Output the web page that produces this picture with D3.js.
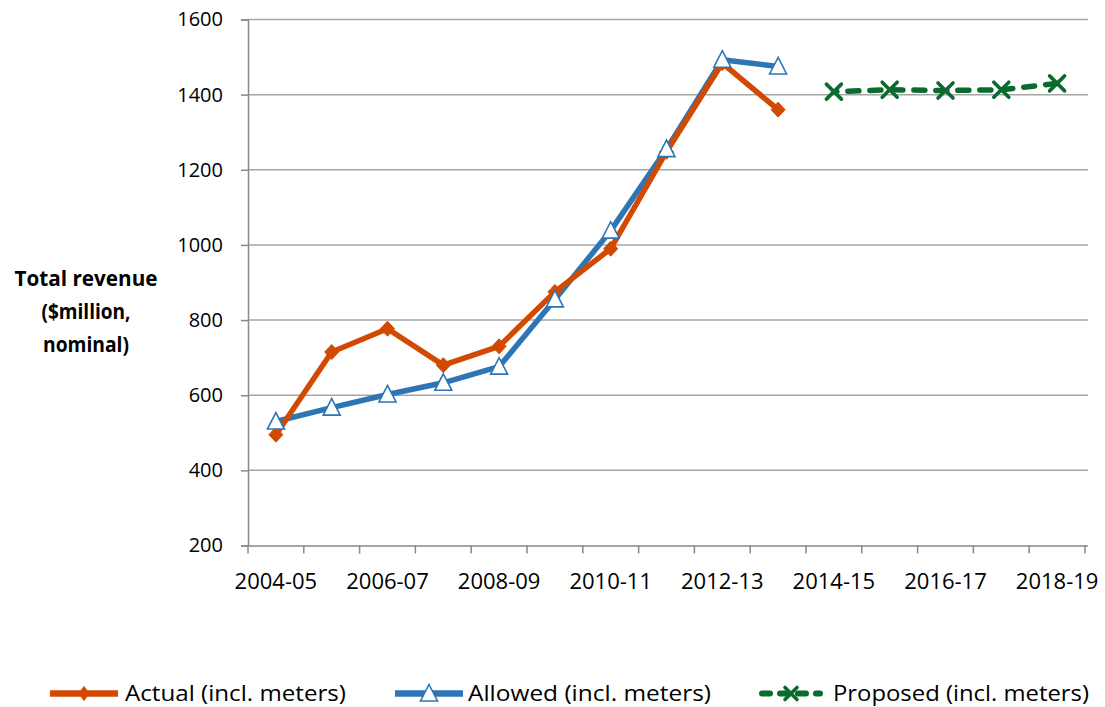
<!DOCTYPE html>
<html><head><meta charset="utf-8">
<script src="https://cdn.jsdelivr.net/npm/d3@7"></script>
<style>
html,body{margin:0;padding:0;background:#fff;}
svg{display:block;}
</style>
</head><body>
<svg id="chart" width="1105" height="707"></svg>
<script>
const categories = ["2004-05","2005-06","2006-07","2007-08","2008-09","2009-10","2010-11","2011-12","2012-13","2013-14","2014-15","2015-16","2016-17","2017-18","2018-19"];
const actual   = [495, 715, 777, 680, 730, 875, 990, 1248, 1484, 1360, null, null, null, null, null];
const allowed  = [530, 567, 602, 633, 676, 855, 1038, 1255, 1493, 1475, null, null, null, null, null];
const proposed = [null, null, null, null, null, null, null, null, null, null, 1408, 1413, 1411, 1413, 1430];
const yTicks = [200, 400, 600, 800, 1000, 1200, 1400, 1600];
const seriesNames = ["Actual (incl. meters)", "Allowed (incl. meters)", "Proposed (incl. meters)"];
const yLabelLines = ["Total revenue", "($million,", "nominal)"];

const FONT = "'Open Sans', sans-serif";
const svg = d3.select("#chart");
const L = 248, R = 1085, T = 19.5, B = 545.5;
const x = d3.scaleBand().domain(categories).range([L, R]);
const y = d3.scaleLinear().domain([200, 1600]).range([B, T]);

// gridlines
svg.append("g").selectAll("line").data(yTicks.slice(1)).join("line")
  .attr("x1", L).attr("x2", R + 3).attr("y1", d => y(d)).attr("y2", d => y(d))
  .attr("stroke", "#a6a6a6").attr("stroke-width", 1.5);

// y axis
const yAxis = svg.append("g").attr("transform", `translate(${L},0)`)
  .call(d3.axisLeft(y).tickValues(yTicks).tickSize(7).tickPadding(18).tickFormat(d3.format("d")));
yAxis.select(".domain").attr("stroke", "#898989").attr("stroke-width", 1.5);
yAxis.selectAll(".tick line").attr("stroke", "#898989").attr("stroke-width", 1.5);
yAxis.selectAll("text").attr("font-family", FONT).attr("font-size", 20).attr("fill", "#000");

// x axis
const xAxis = svg.append("g").attr("transform", `translate(0,${B})`)
  .call(d3.axisBottom(x).tickSize(0).tickFormat((d, i) => i % 2 === 0 ? d : ""));
xAxis.select(".domain").attr("stroke", "#898989").attr("stroke-width", 1.5)
  .attr("d", `M${L},0.5H${R + 3}`);
xAxis.selectAll("text").attr("font-family", FONT).attr("font-size", 22).attr("fill", "#000")
  .attr("y", 589 - B).attr("dy", 0);
// x tick marks at band boundaries
const bounds = categories.map(c => x(c)).concat([x(categories[categories.length - 1]) + x.bandwidth()]);
svg.append("g").selectAll("line").data(bounds).join("line")
  .attr("x1", d => d).attr("x2", d => d).attr("y1", B).attr("y2", B + 8)
  .attr("stroke", "#898989").attr("stroke-width", 1.5);

// y label
const ylWidths = [143, 89, 86];
yLabelLines.forEach((t, i) => {
  svg.append("text").attr("font-family", FONT).attr("font-weight", "bold")
    .attr("font-size", 22).attr("text-anchor", "middle").attr("fill", "#000")
    .attr("x", 86).attr("y", 285.5 + i * 33)
    .attr("textLength", ylWidths[i]).attr("lengthAdjust", "spacingAndGlyphs")
    .text(t);
});

const cx = d => x(d) + x.bandwidth() / 2;
const line = d3.line().defined(d => d.v != null).x(d => cx(d.c)).y(d => y(d.v));
const mk = arr => categories.map((c, i) => ({ c, v: arr[i] }));

const ORANGE = "#d24a02", BLUE = "#2e75b6", GREEN = "#0b6b2f";

function diamond(g, px, py, sx, sy) {
  g.append("path").attr("d", `M${px},${py - sy}L${px + sx},${py}L${px},${py + sy}L${px - sx},${py}Z`)
    .attr("fill", ORANGE).attr("stroke", ORANGE).attr("stroke-width", 1);
}
function triangle(g, px, py) {
  g.append("path").attr("d", `M${px},${py - 9}L${px + 8.5},${py + 7.5}L${px - 8.5},${py + 7.5}Z`)
    .attr("fill", "#fff").attr("stroke", BLUE).attr("stroke-width", 1.6);
}
function cross(g, px, py, s) {
  g.append("path").attr("d", `M${px - s},${py - s}L${px + s},${py + s}M${px + s},${py - s}L${px - s},${py + s}`)
    .attr("stroke", GREEN).attr("stroke-width", 3.6).attr("stroke-linecap", "round");
}

// Allowed line
svg.append("path").datum(mk(allowed)).attr("d", line)
  .attr("fill", "none").attr("stroke", BLUE).attr("stroke-width", 5.5).attr("stroke-linejoin", "round");
// Actual line
svg.append("path").datum(mk(actual)).attr("d", line)
  .attr("fill", "none").attr("stroke", ORANGE).attr("stroke-width", 5.5).attr("stroke-linejoin", "round");
const gm = svg.append("g");
mk(actual).filter(d => d.v != null).forEach(d => diamond(gm, cx(d.c), y(d.v), 7, 7.5));
const gt = svg.append("g");
mk(allowed).filter(d => d.v != null).forEach(d => triangle(gt, cx(d.c), y(d.v)));
// Proposed
svg.append("path").datum(mk(proposed)).attr("d", line)
  .attr("fill", "none").attr("stroke", GREEN).attr("stroke-width", 5.5)
  .attr("stroke-dasharray", "11,11").attr("stroke-dashoffset", -14).attr("stroke-linecap", "round");
const gx = svg.append("g");
mk(proposed).filter(d => d.v != null).forEach(d => cross(gx, cx(d.c), y(d.v), 7.5));

// legend
const LY = 693.5, TY = 700.5;
const leg = svg.append("g");
const items = [
  { x1: 50, x2: 118, tx: 125, w: 221, name: seriesNames[0], type: "a" },
  { x1: 395, x2: 463, tx: 468, w: 243, name: seriesNames[1], type: "b" },
  { x1: 759, x2: 823, tx: 833, w: 256, name: seriesNames[2], type: "c" }
];
items.forEach(it => {
  const mx = (it.x1 + it.x2) / 2;
  if (it.type === "c") {
    leg.append("line").attr("x1", it.x1 + 3).attr("x2", it.x2 - 3).attr("y1", LY).attr("y2", LY)
      .attr("stroke", GREEN).attr("stroke-width", 6).attr("stroke-dasharray", "8,10").attr("stroke-linecap", "round");
    cross(leg, mx, LY, 6);
  } else {
    leg.append("line").attr("x1", it.x1).attr("x2", it.x2).attr("y1", LY).attr("y2", LY)
      .attr("stroke", it.type === "a" ? ORANGE : BLUE).attr("stroke-width", 6.5);
    if (it.type === "a") diamond(leg, mx, LY, 5, 7); else triangle(leg, mx, LY);
  }
  leg.append("text").attr("x", it.tx).attr("y", TY)
    .attr("font-family", FONT).attr("font-size", 22).attr("fill", "#000")
    .attr("textLength", it.w).attr("lengthAdjust", "spacingAndGlyphs").text(it.name);
});
</script>
</body></html>
